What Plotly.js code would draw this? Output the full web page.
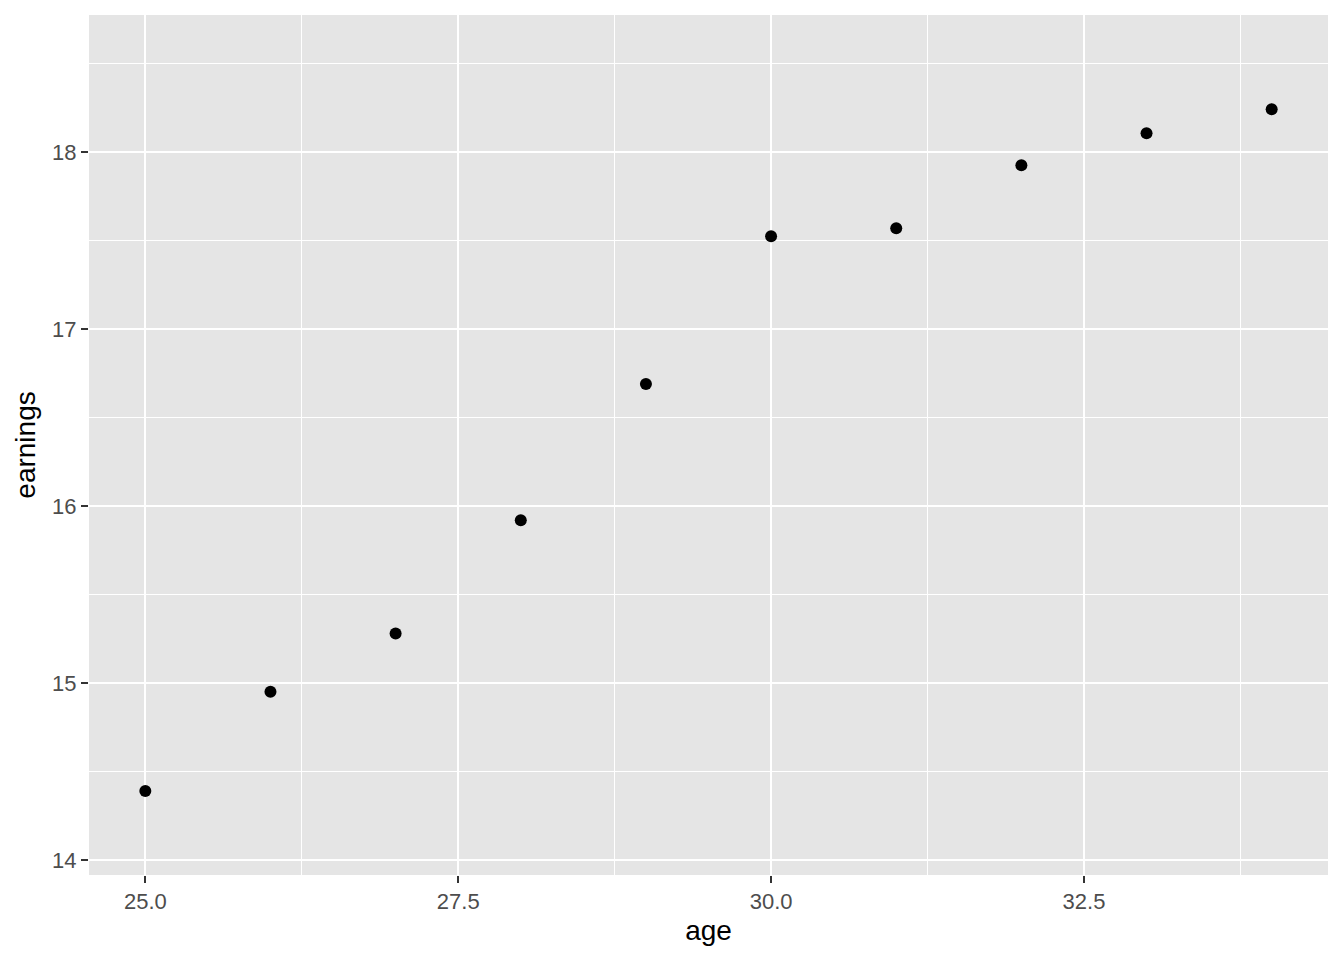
<!DOCTYPE html>
<html>
<head>
<meta charset="utf-8">
<script src="https://cdn.plot.ly/plotly-3.0.1.min.js"></script>
<style>html,body{margin:0;padding:0;background:#fff;}#chart{width:1344px;height:960px;}</style>
</head>
<body>
<div id="chart"></div>
<script>
const age = [25, 26, 27, 28, 29, 30, 31, 32, 33, 34];
const earnings = [14.39, 14.95, 15.28, 15.92, 16.69, 17.525, 17.57, 17.926, 18.107, 18.243];
const xTicks = [25, 27.5, 30, 32.5];
const xTickText = ["25.0", "27.5", "30.0", "32.5"];
const yTicks = [14, 15, 16, 17, 18];

const font = "Liberation Sans, Arial, Helvetica, sans-serif";
const trace = {
  x: age, y: earnings, type: "scatter", mode: "markers",
  marker: {color: "#000000", size: 12},
  hoverinfo: "x+y"
};
const layout = {
  width: 1344, height: 960,
  margin: {l: 89, r: 16, t: 15, b: 85},
  paper_bgcolor: "#FFFFFF", plot_bgcolor: "#E5E5E5",
  showlegend: false,
  font: {family: font},
  xaxis: {
    range: [24.55, 34.45], tickmode: "array", tickvals: xTicks, ticktext: xTickText,
    showgrid: true, gridcolor: "#FFFFFF", gridwidth: 2.2, zeroline: false, showline: false,
    ticks: "outside", ticklen: 7, tickwidth: 2, tickcolor: "#333333",
    tickfont: {size: 22, color: "#4D4D4D", family: font},
    minor: {tickmode: "array", tickvals: [26.25, 28.75, 31.25, 33.75], showgrid: true, gridcolor: "#FFFFFF", gridwidth: 1.1, ticks: ""},
    title: {text: "age", font: {size: 28, color: "#000000", family: font}, standoff: 6}
  },
  yaxis: {
    range: [13.915, 18.775], tickmode: "array", tickvals: yTicks,
    showgrid: true, gridcolor: "#FFFFFF", gridwidth: 2.2, zeroline: false, showline: false,
    ticks: "outside", ticklen: 7, tickwidth: 2, tickcolor: "#333333",
    tickfont: {size: 22, color: "#4D4D4D", family: font},
    minor: {tickmode: "array", tickvals: [14.5, 15.5, 16.5, 17.5, 18.5], showgrid: true, gridcolor: "#FFFFFF", gridwidth: 1.1, ticks: ""},
    title: {text: "earnings", font: {size: 28, color: "#000000", family: font}, standoff: 8}
  }
};
Plotly.newPlot("chart", [trace], layout, {displayModeBar: false, staticPlot: true});
</script>
</body>
</html>
